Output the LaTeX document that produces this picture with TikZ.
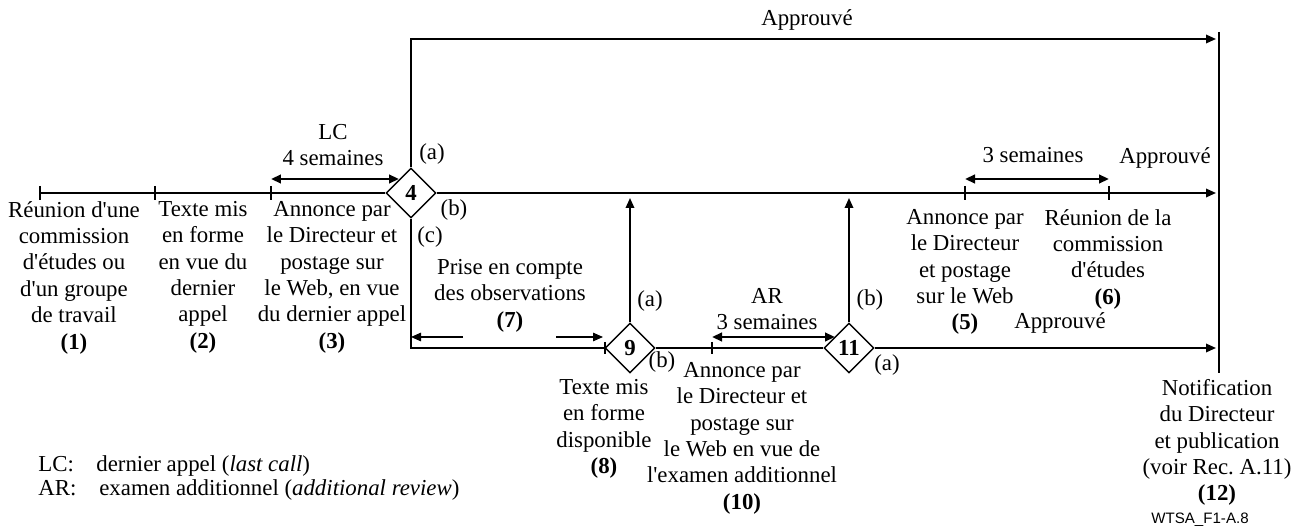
\documentclass[tikz,border=0pt]{standalone}
\usepackage{fontspec}
\setmainfont{Liberation Serif}
\newfontfamily\labelsans{Liberation Sans}
\usetikzlibrary{shapes.geometric,arrows.meta}
\newcommand{\ap}{\textquotesingle}

\begin{document}
\begin{tikzpicture}[x=0.02cm,y=-0.02cm,
  every node/.style={font=\fontsize{13}{15}\selectfont,inner sep=0pt},
  txt/.style={align=center,anchor=north},
  dec/.style={draw,diamond,aspect=1,minimum width=1cm,minimum height=1cm,line width=0.8pt,font=\fontsize{13}{15}\selectfont\bfseries},
  flow/.style={line width=1pt},
  arr/.style={line width=1pt,-{Triangle[length=2mm,width=1.7mm]}},
  thinarr/.style={line width=0.7pt,-{Triangle[length=2mm,width=1.7mm]}},
  span/.style={line width=1.5pt,{Triangle[length=2mm,width=1.7mm]}-{Triangle[length=2mm,width=1.7mm]}},
  tick/.style={line width=0.6pt},
  legend/.style={anchor=base west}]
\useasboundingbox (0,0) rectangle (1303,530);

% decision points
\node[dec] (d4) at (411,193) {4};
\node[dec] (d9) at (630,348) {9};
\node[dec] (d11) at (849,348) {11};

% points on the lines
\coordinate (s1) at (40,193);
\coordinate (t2) at (155,193);
\coordinate (t3) at (271,193);
\coordinate (t5) at (965,193);
\coordinate (t6) at (1109,193);
\coordinate (t8) at (605,348);
\coordinate (t10) at (712,348);
\coordinate (e1) at (1216,39);
\coordinate (e2) at (1216,193);
\coordinate (e3) at (1216,348);
\coordinate (barT) at (1219,32);
\coordinate (barB) at (1219,373);
\coordinate (m9) at (630,198);
\coordinate (m11) at (849,198);
\coordinate (lcA) at (271,179);
\coordinate (lcB) at (399,179);
\coordinate (wA) at (965,179);
\coordinate (wB) at (1109,179);
\coordinate (arA) at (712,337);
\coordinate (arB) at (835,337);
\coordinate (obL) at (463,337);
\coordinate (obR) at (556,337);
\coordinate (obE) at (603,337);

% steps
\node[txt] (n1) at (74,201) {Réunion d\ap une\\commission\\d\ap études ou\\d\ap un groupe\\de travail\\\textbf{(1)}};
\node[txt] (n2) at (203,201) {Texte mis\\en forme\\en vue du\\dernier\\appel\\\textbf{(2)}};
\node[txt] (n3) at (332,201) {Annonce par\\le Directeur et\\postage sur\\le Web, en vue\\du dernier appel\\\textbf{(3)}};
\node[txt] (lc) at (333,124) {LC\\4 semaines};
\node[txt] (n7) at (510,259) {Prise en compte\\des observations\\\textbf{(7)}};
\node[txt] (n8) at (604,379) {Texte mis\\en forme\\disponible\\\textbf{(8)}};
\node[txt] (ar) at (767,288) {AR\\3 semaines};
\node[txt] (n10) at (742,362) {Annonce par\\le Directeur et\\postage sur\\le Web en vue de\\l\ap examen additionnel\\\textbf{(10)}};
\node[txt] (n5) at (965,209) {Annonce par\\le Directeur\\et postage\\sur le Web\\\textbf{(5)}};
\node[txt] (n6) at (1108,209) {Réunion de la\\commission\\d\ap études\\\textbf{(6)}};
\node[txt] (n12) at (1217,379) {Notification\\du Directeur\\et publication\\(voir Rec.\ A.11)\\\textbf{(12)}};
\node (w5) at (1033,155) {3 semaines};

% outcomes
\node (a4) at (432,154) {(a)};
\node (b4) at (454,210) {(b)};
\node (c4) at (430,237) {(c)};
\node (a9) at (650,301) {(a)};
\node (b9) at (662,362) {(b)};
\node (b11) at (870,300) {(b)};
\node (a11) at (887,365) {(a)};
\node (ap1) at (807,20) {Approuvé};
\node (ap2) at (1165,158) {Approuvé};
\node (ap3) at (1060,323) {Approuvé};

% lines
\draw[flow] (s1) -- (d4.west);
\draw[arr] (d4.north) |- (e1);
\draw[arr] (d4.east) -- (e2);
\draw[flow] (d4.south) |- (d9.west);
\draw[arr] (d9.north) -- (m9);
\draw[flow] (d9.east) -- (d11.west);
\draw[arr] (d11.north) -- (m11);
\draw[arr] (d11.east) -- (e3);
\draw[line width=0.8pt] (barT) -- (barB);
\foreach \c in {s1,t2,t3,t5,t6}
  \draw[tick] (\c) ++(0,-7) -- ++(0,14);
\foreach \c in {t8,t10}
  \draw[tick] (\c) ++(0,-6) -- ++(0,12);

% durations
\draw[span] (lcA) -- (lcB);
\draw[span] (wA) -- (wB);
\draw[span] (arA) -- (arB);
\draw[thinarr] (obL) -- (d4.south |- obL);
\draw[thinarr] (obR) -- (obE);

% legend
\node[legend] (k1) at (38,472) {LC:};
\node[legend] (v1) at (96,472) {dernier appel (\textit{last call})};
\node[legend] (k2) at (38,496) {AR:};
\node[legend] (v2) at (99,496) {examen additionnel (\textit{additional review})};
\node[font=\labelsans\fontsize{8.6}{10}\selectfont] (ref) at (1200,520) {WTSA\_F1-A.8};
\end{tikzpicture}
\end{document}
